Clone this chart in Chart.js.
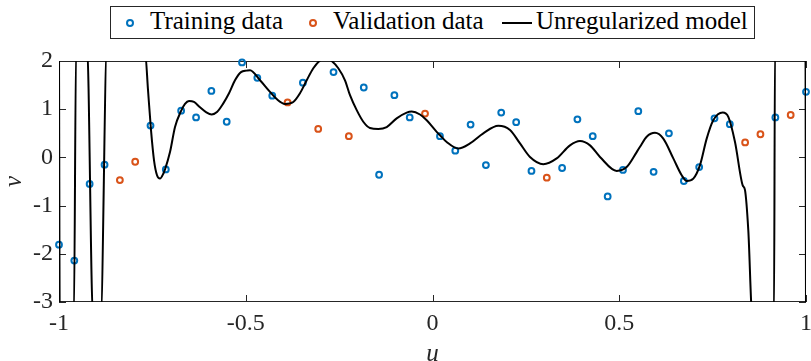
<!DOCTYPE html>
<html>
<head>
<meta charset="utf-8">
<title>Unregularized model fit</title>
<script src="https://cdn.jsdelivr.net/npm/chart.js@4.4.1/dist/chart.umd.min.js"></script>
<style>
  html, body { margin: 0; padding: 0; background: #fff; }
  #wrap { position: relative; width: 811px; height: 361px; }
  #legend {
    position: absolute; left: 110px; top: 6px; width: 645px; height: 33px;
    box-sizing: border-box; border: 1px solid #262626; background: #fff;
    display: flex; font: 25px 'Liberation Serif', serif; line-height: 28px; color: #000;
  }
  #legend .item { display: flex; align-items: center; height: 100%; }
  #legend .lbl { align-self: flex-start; white-space: nowrap; }
  #legend .mk-circle { width: 8px; height: 8px; box-sizing: border-box; border: 2px solid; border-radius: 50%; }
  #legend .mk-line { width: 30px; height: 2px; background: #000; }
  #legend .item:nth-child(1) { margin-left: 15px; }
  #legend .item:nth-child(1) .mk { margin-right: 16px; }
  #legend .item:nth-child(1) .lbl { width: 139px; }
  #legend .item:nth-child(2) { margin-left: 20px; }
  #legend .item:nth-child(2) .mk { margin-right: 16px; }
  #legend .item:nth-child(2) .lbl { width: 161px; }
  #legend .item:nth-child(3) { margin-left: 8px; }
  #legend .item:nth-child(3) .mk { margin-right: 4px; }
  #legend .item:nth-child(3) .lbl { width: 212px; }
</style>
</head>
<body>
<div id="wrap">
  <canvas id="fitChart" width="811" height="361"></canvas>
  <div id="legend"></div>
</div>
<script>
  // training samples (blue)
  const trainU = [-1, -0.959, -0.918, -0.878, -0.755, -0.714, -0.673, -0.633, -0.592, -0.551,
    -0.510, -0.469, -0.429, -0.347, -0.265, -0.184, -0.143, -0.102, -0.061, 0.020,
    0.061, 0.102, 0.143, 0.184, 0.224, 0.265, 0.347, 0.388, 0.429, 0.469,
    0.510, 0.551, 0.592, 0.633, 0.673, 0.714, 0.755, 0.796, 0.918, 1];
  const trainV = [-1.81, -2.14, -0.55, -0.15, 0.66, -0.25, 0.97, 0.83, 1.38, 0.74,
    1.97, 1.65, 1.28, 1.55, 1.77, 1.45, -0.36, 1.29, 0.83, 0.44,
    0.14, 0.68, -0.16, 0.93, 0.73, -0.28, -0.22, 0.79, 0.44, -0.81,
    -0.26, 0.96, -0.30, 0.50, -0.49, -0.20, 0.81, 0.69, 0.83, 1.36];

  // validation samples (orange)
  const validU = [-0.837, -0.796, -0.388, -0.306, -0.224, -0.020, 0.306, 0.837, 0.878, 0.959];
  const validV = [-0.47, -0.09, 1.14, 0.59, 0.44, 0.91, -0.42, 0.31, 0.48, 0.88];

  // model curve (values past the limits are clipped)
  const modelU = [-1, -0.998, -0.9601, -0.9542, -0.9248, -0.909, -0.8881, -0.8718,
    -0.7689, -0.7617, -0.7537, -0.7456, -0.7376, -0.7296, -0.7202, -0.7162, -0.7028, -0.6894,
    -0.6734, -0.6627, -0.6519, -0.6386, -0.6225, -0.6064, -0.5912, -0.577, -0.5609, -0.5448,
    -0.5288, -0.5127, -0.4975, -0.4886, -0.4618, -0.4351, -0.4171, -0.3949, -0.3727, -0.3548,
    -0.3368, -0.3191, -0.3012, -0.2859, -0.2699, -0.2522, -0.2343, -0.2209, -0.2029, -0.1853,
    -0.1673, -0.1451, -0.1226, -0.0959, -0.0691, -0.0557, -0.0335, -0.0155, 0.0112,
    0.0201, 0.038, 0.0691, 0.1004, 0.136, 0.1762, 0.2075, 0.2343, 0.261, 0.2967, 0.3325,
    0.3681, 0.3949, 0.4217, 0.4484, 0.4932, 0.5199, 0.5467, 0.5556, 0.5735, 0.5957, 0.6179,
    0.6447, 0.6672, 0.6806, 0.6983, 0.7162, 0.7341, 0.7518, 0.777, 0.792, 0.8099, 0.8305,
    0.8367, 0.8455, 0.8564, 0.9143, 0.917, 0.9987, 1];
  const modelV = [2.3, -3.3, -3.3, 2.3, 2.3, -3.3, -3.3, 2.3,
    2.12, 1.40, 0.57, -0.06, -0.37, -0.44, -0.33, -0.25, 0.11, 0.63,
    0.96, 1.11, 1.17, 1.15, 1.04, 0.94, 0.89, 0.94, 1.11, 1.33,
    1.60, 1.77, 1.80, 1.81, 1.60, 1.36, 1.21, 1.11, 1.15, 1.33,
    1.60, 1.85, 2.01, 2.07, 2.00, 1.85, 1.60, 1.29, 0.98, 0.74,
    0.61, 0.59, 0.63, 0.81, 0.93, 0.95, 0.89, 0.77, 0.53,
    0.46, 0.32, 0.185, 0.29, 0.50, 0.655, 0.57, 0.29, 0.01, -0.14, -0.02,
    0.25, 0.34, 0.25, 0.01, -0.28, -0.20, 0.11, 0.22, 0.43, 0.51, 0.39,
    -0.02, -0.37, -0.49, -0.44, -0.16, 0.39, 0.77, 0.93, 0.84, 0.32, -0.58,
    -0.68, -1.51, -3.3, -3.3, 2.3, 2.3, -3.3];

  const xTicks = [-1, -0.5, 0, 0.5, 1];
  const yTicks = [-3, -2, -1, 0, 1, 2];

  const BLUE   = '#0072BD';
  const ORANGE = '#D95319';
  const AXIS   = '#262626';
  const SERIF  = "'Liberation Serif', 'Times New Roman', serif";

  const legendItems = [
    { label: 'Training data', kind: 'circle', color: BLUE },
    { label: 'Validation data', kind: 'circle', color: ORANGE },
    { label: 'Unregularized model', kind: 'line', color: '#000' }
  ];

  function pairs(us, vs) {
    return us.map(function (u, i) { return { x: u, y: vs[i] }; });
  }

  /* ─── Legend (html, boxed) ─── */
  function buildLegend() {
    const box = document.getElementById('legend');
    legendItems.forEach(function (it) {
      const item = document.createElement('div');
      item.className = 'item';
      const mk = document.createElement('span');
      mk.className = 'mk mk-' + it.kind;
      if (it.kind === 'circle') mk.style.borderColor = it.color;
      const lbl = document.createElement('span');
      lbl.className = 'lbl';
      lbl.textContent = it.label;
      item.appendChild(mk);
      item.appendChild(lbl);
      box.appendChild(item);
    });
  }

  /* ─── Box + inward ticks on all four sides ─── */
  const axisBox = {
    id: 'axisBox',
    beforeDatasetsDraw(chart) {
      const { ctx, chartArea: a, scales: { x, y } } = chart;
      const len = 7;
      ctx.save();
      ctx.strokeStyle = AXIS;
      ctx.lineWidth = 1;
      ctx.strokeRect(a.left + 0.5, a.top + 0.5, a.right - a.left - 1, a.bottom - a.top - 1);
      ctx.beginPath();
      xTicks.forEach(function (v) {
        const px = Math.round(x.getPixelForValue(v)) + 0.5;
        ctx.moveTo(px, a.bottom); ctx.lineTo(px, a.bottom - len);
        ctx.moveTo(px, a.top);    ctx.lineTo(px, a.top + len);
      });
      yTicks.forEach(function (v) {
        const py = Math.round(y.getPixelForValue(v)) + 0.5;
        ctx.moveTo(a.left, py);  ctx.lineTo(a.left + len, py);
        ctx.moveTo(a.right, py); ctx.lineTo(a.right - len, py);
      });
      ctx.stroke();
      ctx.restore();
    }
  };

  function initChart() {
    const canvas = document.getElementById('fitChart');
    new Chart(canvas, {
      type: 'scatter',
      data: {
        datasets: [{
          label: 'Training data',
          data: pairs(trainU, trainV),
          borderColor: BLUE,
          backgroundColor: 'transparent',
          pointRadius: 2.9,
          pointBorderWidth: 2,
          pointHoverRadius: 2.9,
          clip: false,
          order: 2
        }, {
          label: 'Validation data',
          data: pairs(validU, validV),
          borderColor: ORANGE,
          backgroundColor: 'transparent',
          pointRadius: 2.9,
          pointBorderWidth: 2,
          pointHoverRadius: 2.9,
          clip: false,
          order: 1
        }, {
          label: 'Unregularized model',
          data: pairs(modelU, modelV),
          showLine: true,
          borderColor: '#000',
          borderWidth: 2,
          pointRadius: 0,
          pointHoverRadius: 0,
          fill: false,
          cubicInterpolationMode: 'monotone',
          clip: 0,
          order: 0
        }]
      },
      options: {
        responsive: false,
        animation: false,
        events: [],
        layout: { padding: { top: 61, right: 5, bottom: 0, left: 0 } },
        plugins: { legend: { display: false }, tooltip: { enabled: false } },
        scales: {
          x: {
            type: 'linear',
            min: -1,
            max: 1,
            afterBuildTicks: function (s) { s.ticks = xTicks.map(function (v) { return { value: v }; }); },
            afterFit: function (s) { s.height = 59; s.paddingLeft = 0; s.paddingRight = 0; },
            grid: { display: false, drawTicks: false },
            border: { display: false },
            ticks: {
              color: AXIS,
              padding: 7,
              maxRotation: 0,
              font: { family: SERIF, size: 24 },
              callback: function (v) { return String(v); }
            },
            title: {
              display: true,
              text: 'u',
              color: AXIS,
              padding: { top: 0, bottom: 0 },
              font: { family: SERIF, size: 25, style: 'italic', lineHeight: 0.56 }
            }
          },
          y: {
            type: 'linear',
            min: -3,
            max: 2,
            afterBuildTicks: function (s) { s.ticks = yTicks.map(function (v) { return { value: v }; }); },
            afterFit: function (s) { s.width = 59; },
            grid: { display: false, drawTicks: false },
            border: { display: false },
            ticks: {
              color: AXIS,
              padding: 6,
              font: { family: SERIF, size: 24 },
              callback: function (v) { return String(v); }
            },
            title: {
              display: true,
              text: 'v',
              color: AXIS,
              padding: { top: 4, bottom: 0 },
              font: { family: SERIF, size: 25, style: 'italic', lineHeight: 0.8 }
            }
          }
        }
      },
      plugins: [axisBox]
    });
  }

  document.addEventListener('DOMContentLoaded', function () {
    buildLegend();
    if (typeof Chart === 'undefined') return;
    initChart();
  });
</script>
</body>
</html>
